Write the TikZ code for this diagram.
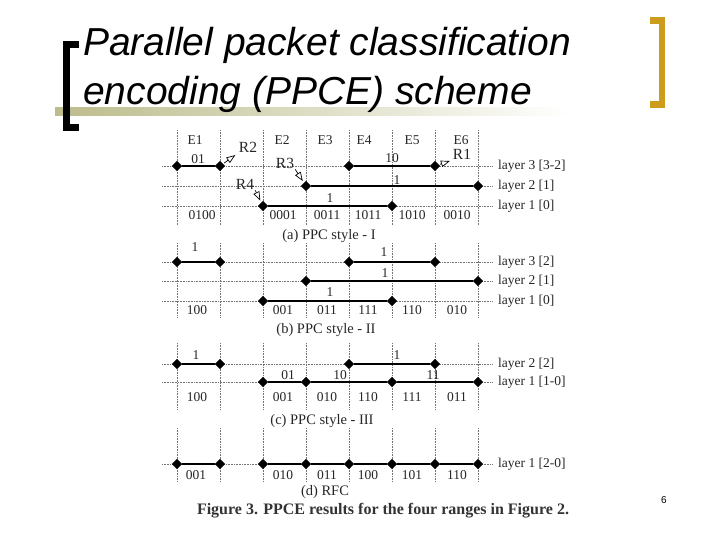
\documentclass[tikz,border=0pt]{standalone}
\usepackage{fontspec}
\setmainfont{Liberation Serif}
\newfontfamily\slidefont{Liberation Sans}
\usetikzlibrary{arrows.meta,shapes.geometric}
\definecolor{bracketgold}{RGB}{204,156,28}
\definecolor{bandolive}{RGB}{188,188,140}

\begin{document}
\begin{tikzpicture}[
  x=1pt, y=-1pt,
  >=Latex,
  pt/.style={diamond, fill=black, inner sep=0pt, minimum size=10.5pt},
  lbl/.style={font=\fontsize{13.5}{14}\selectfont, text=black!85, inner sep=1pt},
  rlbl/.style={font=\fontsize{15.5}{16}\selectfont, text=black!85, inner sep=1pt},
  layerlbl/.style={lbl, anchor=west},
  panelcap/.style={font=\fontsize{14.5}{15}\selectfont, text=black!85, inner sep=1pt},
  caption/.style={font=\bfseries\fontsize{16}{17}\selectfont, text=black!80, inner sep=1pt},
  titleline/.style={font=\slidefont\itshape\fontsize{39}{48}\selectfont, anchor=base west, inner sep=0pt},
  seg/.style={line width=2.5pt},
  thinseg/.style={line width=1.9pt},
  grid/.style={densely dotted, black!55, line width=0.6pt},
  rarrow/.style={-{Triangle[open, length=9pt, width=6.5pt]}, line width=0.7pt},
  bracket/.style={line width=6.5pt, line cap=butt}
]
\useasboundingbox (0,0) rectangle (720,540);
\def\xA{177}
\def\xB{220}
\def\xC{263}
\def\xD{306}
\def\xE{349}
\def\xF{392}
\def\xG{435}
\def\xH{478}
\def\yAiii{166}
\def\yAii{186}
\def\yAi{206}
\def\yBiii{262}
\def\yBii{281}
\def\yBi{301}
\def\yCii{364}
\def\yCi{382}
\def\yDi{464}

% slide title
\shade[left color=bandolive, middle color=bandolive!85, right color=white] (55,108) rectangle (570,116);
\draw[bracket] (79,44.5) -- (66.5,44.5) -- (66.5,127.5) -- (79,127.5);
\draw[bracket, bracketgold] (650,20.5) -- (662,20.5) -- (662,104.5) -- (650,104.5);
\node[titleline] (title1) at (83,56) {Parallel packet classification};
\node[titleline] (title2) at (83,105) {encoding (PPCE) scheme};
\node[font=\slidefont\fontsize{10}{10}\selectfont] (pageno) at (664,500) {6};

% grid
\foreach \ytop/\ybot in {130/225, 243/318, 343/410, 428/481}
  \foreach \x in {177,220,...,478}
    \draw[grid] (\x,\ytop) -- (\x,\ybot);
\foreach \y in {\yAiii,\yAii,\yAi,\yBiii,\yBii,\yBi,\yCii,\yCi,\yDi}
  \draw[grid] (162,\y) -- (493,\y);

% (a) PPC style - I
\node[lbl] (e1) at (195,140) {E1};
\node[lbl] (e2) at (282,140) {E2};
\node[lbl] (e3) at (325,140) {E3};
\node[lbl] (e4) at (364,140) {E4};
\node[lbl] (e5) at (412,140) {E5};
\node[lbl] (e6) at (461,140) {E6};
\node[pt] (a3a) at (\xA,\yAiii) {};
\node[pt] (a3b) at (\xB,\yAiii) {};
\node[pt] (a3c) at (\xE,\yAiii) {};
\node[pt] (a3d) at (\xG,\yAiii) {};
\node[pt] (a2a) at (\xD,\yAii) {};
\node[pt] (a2b) at (\xH,\yAii) {};
\node[pt] (a1a) at (\xC,\yAi) {};
\node[pt] (a1b) at (\xF,\yAi) {};
\draw[seg] (a3a) -- (a3b);
\draw[seg] (a3c) -- (a3d);
\draw[thinseg] (a2a) -- (a2b);
\draw[seg] (a1a) -- (a1b);
\node[lbl] (a3lab1) at (198,159) {01};
\node[lbl] (a3lab2) at (392,158) {10};
\node[lbl] (a2lab) at (397,180) {1};
\node[lbl] (a1lab) at (330,198) {1};
\node[rlbl] (r2) at (248,147) {R2};
\node[rlbl] (r1) at (462,154) {R1};
\node[rlbl] (r3) at (285,163) {R3};
\node[rlbl] (r4) at (245,184) {R4};
\draw[rarrow, shorten <=1pt, shorten >=3pt] (a3b) -- (r2.south west);
\draw[rarrow, shorten <=1pt, shorten >=2pt] (a3d) -- (r1.south west);
\draw[rarrow, shorten <=0pt, shorten >=2pt] (r3.south east) -- (a2a);
\draw[rarrow, shorten <=0pt, shorten >=2pt] (r4.south east) -- (a1a);
\foreach \x/\t [count=\i] in {202/0100, 283/0001, 327/0011, 368/1011, 412/1010, 457/0010}
  \node[lbl] (abit\i) at (\x,215) {\t};
\node[layerlbl] (alay3) at (497,\yAiii) {layer 3 [3-2]};
\node[layerlbl] (alay2) at (497,\yAii) {layer 2 [1]};
\node[layerlbl] (alay1) at (497,\yAi) {layer 1 [0]};
\node[panelcap] (acap) at (329,236) {(a) PPC style - I};

% (b) PPC style - II
\node[pt] (b3a) at (\xA,\yBiii) {};
\node[pt] (b3b) at (\xB,\yBiii) {};
\node[pt] (b3c) at (\xE,\yBiii) {};
\node[pt] (b3d) at (\xG,\yBiii) {};
\node[pt] (b2a) at (\xD,\yBii) {};
\node[pt] (b2b) at (\xH,\yBii) {};
\node[pt] (b1a) at (\xC,\yBi) {};
\node[pt] (b1b) at (\xF,\yBi) {};
\draw[seg] (b3a) -- (b3b);
\draw[seg] (b3c) -- (b3d);
\draw[seg] (b2a) -- (b2b);
\draw[seg] (b1a) -- (b1b);
\node[lbl] (b3lab1) at (195,247) {1};
\node[lbl] (b3lab2) at (384,252) {1};
\node[lbl] (b2lab) at (385,273) {1};
\node[lbl] (b1lab) at (330,292) {1};
\foreach \x/\t [count=\i] in {197/100, 283/001, 327/011, 368/111, 412/110, 457/010}
  \node[lbl] (bbit\i) at (\x,310) {\t};
\node[layerlbl] (blay3) at (497,\yBiii) {layer 3 [2]};
\node[layerlbl] (blay2) at (497,\yBii) {layer 2 [1]};
\node[layerlbl] (blay1) at (497,\yBi) {layer 1 [0]};
\node[panelcap] (bcap) at (326,330) {(b) PPC style - II};

% (c) PPC style - III
\node[pt] (c2a) at (\xA,\yCii) {};
\node[pt] (c2b) at (\xB,\yCii) {};
\node[pt] (c2c) at (\xE,\yCii) {};
\node[pt] (c2d) at (\xG,\yCii) {};
\node[pt] (c1a) at (\xC,\yCi) {};
\node[pt] (c1b) at (\xD,\yCi) {};
\node[pt] (c1c) at (\xF,\yCi) {};
\node[pt] (c1d) at (\xH,\yCi) {};
\draw[seg] (c2a) -- (c2b);
\draw[seg] (c2c) -- (c2d);
\draw[seg] (c1a) -- (c1b);
\draw[seg] (c1b) -- (c1c);
\draw[seg] (c1c) -- (c1d);
\node[lbl] (c2lab1) at (196,355) {1};
\node[lbl] (c2lab2) at (397,355) {1};
\node[lbl] (c1lab1) at (288,375) {01};
\node[lbl] (c1lab2) at (340,375) {10};
\node[lbl] (c1lab3) at (433,375) {11};
\foreach \x/\t [count=\i] in {197/100, 283/001, 327/010, 368/110, 412/111, 457/011}
  \node[lbl] (cbit\i) at (\x,397) {\t};
\node[layerlbl] (clay2) at (497,\yCii) {layer 2 [2]};
\node[layerlbl] (clay1) at (497,\yCi) {layer 1 [1-0]};
\node[panelcap] (ccap) at (322,421) {(c) PPC style - III};

% (d) RFC
\foreach \x [count=\i] in {\xA,\xB,\xC,\xD,\xE,\xF,\xG,\xH}
  \node[pt] (d\i) at (\x,\yDi) {};
\draw[seg] (d1) -- (d2);
\draw[seg] (d3) -- (d4) -- (d5) -- (d6) -- (d7) -- (d8);
\foreach \x/\t [count=\i] in {196/001, 283/010, 327/011, 368/100, 412/101, 457/110}
  \node[lbl] (dbit\i) at (\x,475) {\t};
\node[layerlbl] (dlay1) at (497,\yDi) {layer 1 [2-0]};
\node[panelcap] (dcap) at (325,492) {(d) RFC};
\node[caption] (figcap) at (383,511) {Figure 3. PPCE results for the four ranges in Figure 2.};
\end{tikzpicture}
\end{document}
